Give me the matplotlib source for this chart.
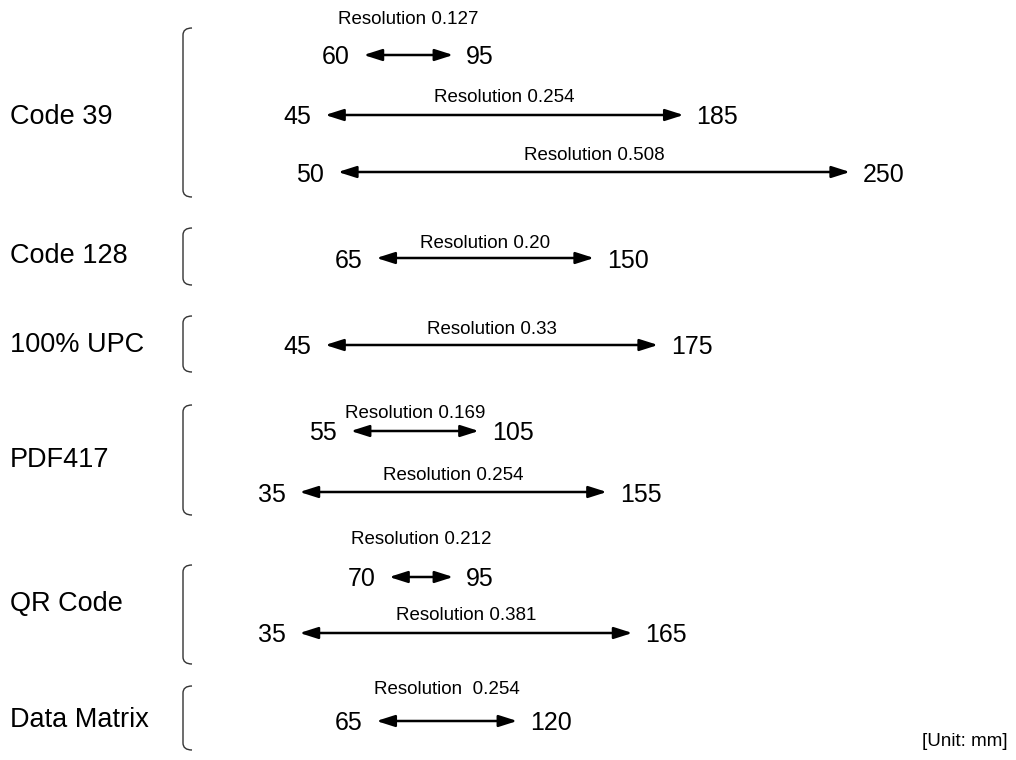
import matplotlib
matplotlib.use("Agg")
import matplotlib.pyplot as plt
from matplotlib.path import Path
from matplotlib.patches import PathPatch

plt.rcParams['font.family'] = ['Liberation Sans', 'DejaVu Sans']

# ---- data ----
categories = ["Code 39", "Code 128", "100% UPC", "PDF417", "QR Code", "Data Matrix"]
row_category = [0, 0, 0, 1, 2, 3, 3, 4, 4, 5]
near_mm = [60, 45, 50, 65, 45, 55, 35, 70, 35, 65]
far_mm = [95, 185, 250, 150, 175, 105, 155, 95, 165, 120]
resolution_labels = ["Resolution 0.127", "Resolution 0.254", "Resolution 0.508",
                     "Resolution 0.20", "Resolution 0.33", "Resolution 0.169",
                     "Resolution 0.254", "Resolution 0.212", "Resolution 0.381",
                     "Resolution  0.254"]
unit_label = "[Unit: mm]"

# ---- layout (pixels) ----
arrow_y = [55, 115, 172, 258, 345, 431, 492, 577, 633, 721]
label_y = [20, 98, 156, 244, 330, 413, 476, 540, 616, 690]
cat_y = [117, 256, 345, 460, 604, 720]
bracket_top = [28, 228, 316, 405, 565, 686]
bracket_bot = [197, 285, 372, 515, 664, 750]
bracket_x = 183

W, H = 1016, 760
fig = plt.figure(figsize=(W / 100, H / 100), dpi=100)

# layout axes in pixel coordinates
lay = fig.add_axes([0, 0, 1, 1])
lay.set_xlim(0, W)
lay.set_ylim(H, 0)
lay.axis('off')

# data axes: x in mm
ax = fig.add_axes([0, 0, 1, 1])
a, b = 210.0, 2.56
ax.set_xlim(-a / b, (W - a) / b)
ax.set_ylim(H, 0)
ax.axis('off')
ax.patch.set_alpha(0)

num_fs = 18
cat_fs = 19.5
res_fs = 13.5

for i in range(len(near_mm)):
    y = arrow_y[i]
    ax.annotate("", xy=(far_mm[i], y), xytext=(near_mm[i], y),
                arrowprops=dict(arrowstyle="<|-|>,head_length=1.1,head_width=0.35",
                                color="black", lw=1.8, shrinkA=0, shrinkB=0))
    ax.annotate(str(near_mm[i]), xy=(near_mm[i], y), xytext=(-14, 0),
                textcoords="offset pixels", ha="right", va="center_baseline",
                fontsize=num_fs)
    ax.annotate(str(far_mm[i]), xy=(far_mm[i], y), xytext=(13, 0),
                textcoords="offset pixels", ha="left", va="center_baseline",
                fontsize=num_fs)
    ax.text((near_mm[i] + far_mm[i]) / 2, label_y[i], resolution_labels[i],
            ha="center", va="center", fontsize=res_fs)

for j, name in enumerate(categories):
    lay.text(10, cat_y[j], name, ha="left", va="center", fontsize=cat_fs)
    t, bt = bracket_top[j], bracket_bot[j]
    x0 = bracket_x
    r = 7
    verts = [(x0 + 9, t), (x0, t), (x0, t + r), (x0, bt - r), (x0, bt), (x0 + 9, bt)]
    codes = [Path.MOVETO, Path.CURVE3, Path.CURVE3, Path.LINETO, Path.CURVE3, Path.CURVE3]
    lay.add_patch(PathPatch(Path(verts, codes), fill=False, edgecolor="#333333", lw=1.0))

lay.text(1008, 742, unit_label, ha="right", va="center", fontsize=13.5)

fig.savefig("out.png", dpi=100)
